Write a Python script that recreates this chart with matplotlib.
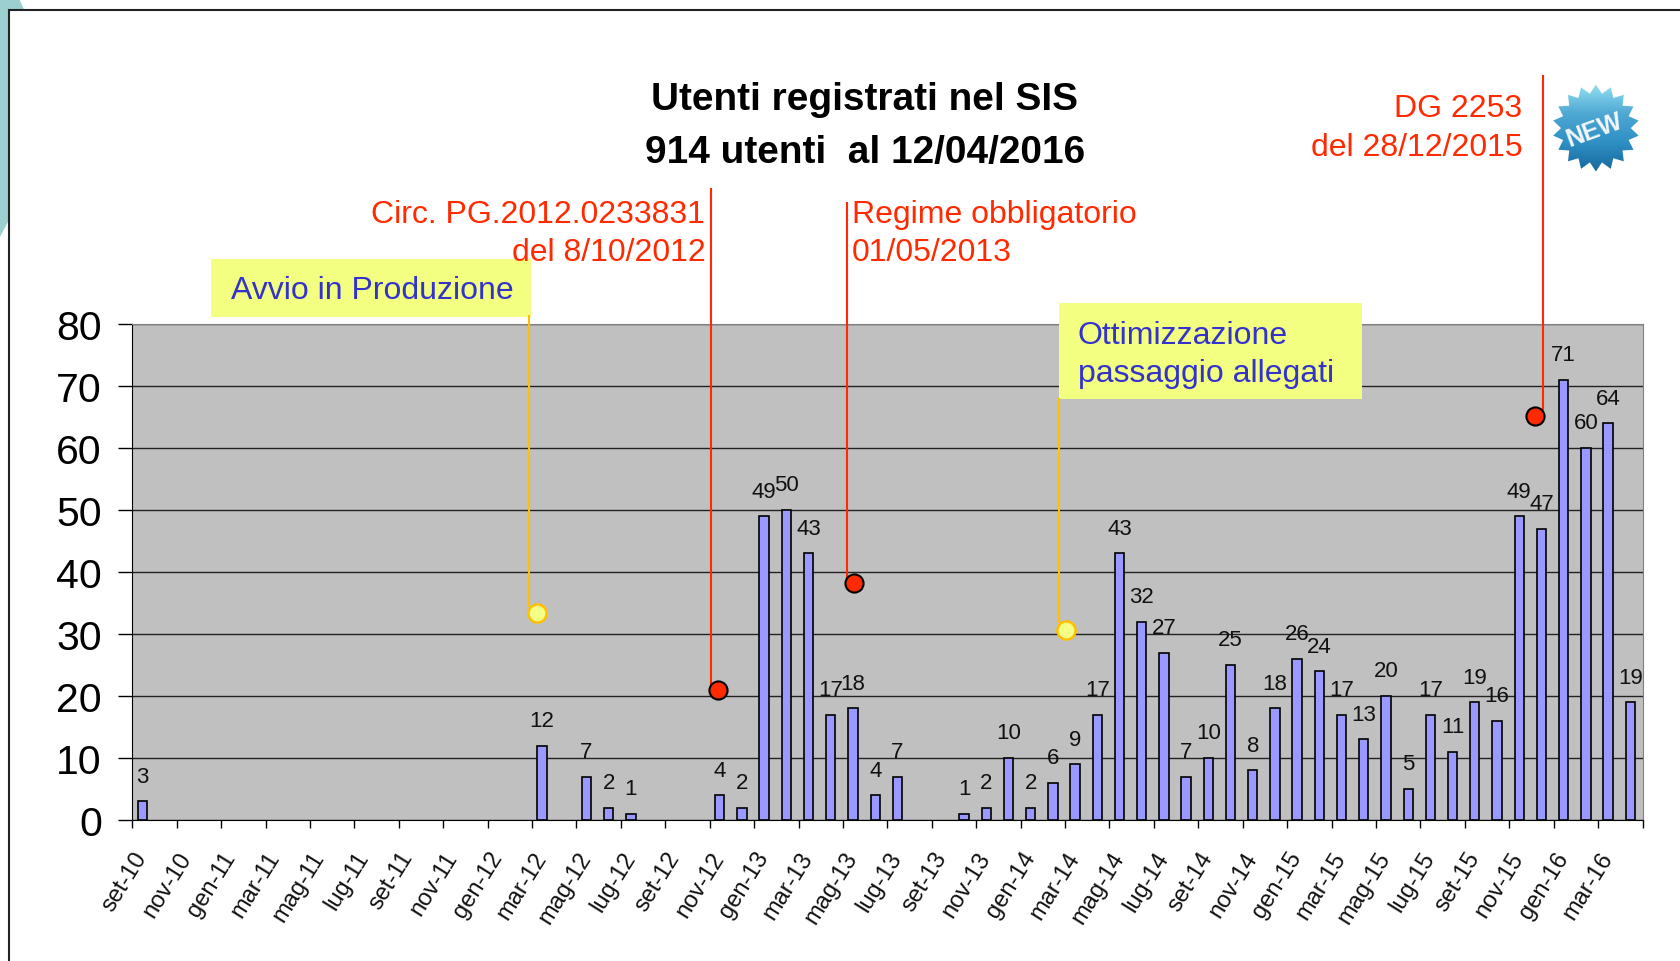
import numpy as np
import matplotlib
matplotlib.use("Agg")
import matplotlib.pyplot as plt
from matplotlib.patches import Polygon, Rectangle

plt.rcParams['font.family'] = ['Liberation Sans', 'DejaVu Sans']

MONTHS = ["set-10","ott-10","nov-10","dic-10","gen-11","feb-11","mar-11","apr-11","mag-11","giu-11","lug-11","ago-11",
          "set-11","ott-11","nov-11","dic-11","gen-12","feb-12","mar-12","apr-12","mag-12","giu-12","lug-12","ago-12",
          "set-12","ott-12","nov-12","dic-12","gen-13","feb-13","mar-13","apr-13","mag-13","giu-13","lug-13","ago-13",
          "set-13","ott-13","nov-13","dic-13","gen-14","feb-14","mar-14","apr-14","mag-14","giu-14","lug-14","ago-14",
          "set-14","ott-14","nov-14","dic-14","gen-15","feb-15","mar-15","apr-15","mag-15","giu-15","lug-15","ago-15",
          "set-15","ott-15","nov-15","dic-15","gen-16","feb-16","mar-16","apr-16"]
USERS = [3,0,0,0,0,0,0,0,0,0,0,0,
         0,0,0,0,0,0,12,0,7,2,1,0,
         0,0,4,2,49,50,43,17,18,4,7,0,
         0,1,2,10,2,6,9,17,43,32,27,7,
         10,25,8,18,26,24,17,13,20,5,17,11,
         19,16,49,47,71,60,64,19]
TITLE = ["Utenti registrati nel SIS", "914 utenti  al 12/04/2016"]
RED_EVENTS_X = [26.35, 32.48, 63.18]
RED_EVENTS_Y = [21.0, 38.2, 65.1]
YELLOW_EVENTS_X = [18.2, 42.04]
YELLOW_EVENTS_Y = [33.3, 30.7]

W, H = 1568.0, 898.0
RED, BLUE, YEL, ORANGE = "#ff2a00", "#3333cc", "#f2ff80", "#ffc000"

fig = plt.figure(figsize=(16.8, 9.62), dpi=100, facecolor="white")
ax = fig.add_axes([123.5/W, 1-766.3/H, (1533-123.5)/W, (766-303)/H], facecolor="#c0c0c0", zorder=2)

x = np.arange(len(USERS)) + 0.45
vals = np.array(USERS)
mask = vals > 0
ax.set_axisbelow(True)
ax.yaxis.grid(True, color="#222222", lw=1.0)
ax.bar(x[mask], vals[mask], width=0.42, color="#9999ff", edgecolor="black", linewidth=1.2, zorder=3)
for xi, v in zip(x[mask], vals[mask]):
    ax.annotate(str(v), (xi, v), xytext=(0, 18), textcoords="offset points",
                ha="center", va="center", fontsize=16, color="#111111", zorder=4)

ax.set_xlim(0, len(USERS))
ax.set_ylim(0, 80)
ax.set_yticks(range(0, 81, 10))
ax.tick_params(axis="y", labelsize=29.5, length=10, width=1, pad=12, colors="black")
ax.set_xticks(range(0, len(USERS) + 1, 2))
ax.set_xticklabels([])
ax.tick_params(axis="x", length=6, width=1)
for i, lab in enumerate(MONTHS[::2]):
    ax.annotate(lab, (2*i, 0), xytext=(7, -24), textcoords="offset points", xycoords="data",
                rotation=58, rotation_mode="anchor", ha="right", va="center",
                fontsize=17, color="#111111", annotation_clip=False)
for s in ("left", "bottom"):
    ax.spines[s].set_color("black")
for s in ("top", "right"):
    ax.spines[s].set_color("#808080")

# slide furniture and callouts, in picture coordinates
ov = fig.add_axes([0, 0, 1, 1], facecolor="none", zorder=5)
ov.set_xlim(0, W); ov.set_ylim(H, 0); ov.axis("off")
ov0 = fig.add_axes([0, 0, 1, 1], facecolor="none", zorder=1)
ov0.set_xlim(0, W); ov0.set_ylim(H, 0); ov0.axis("off")
ov0.add_patch(Polygon([(0,0),(18,0),(22.5,10),(8,10),(8,207),(0,222)], closed=True, fc="#9ccfcf", ec="none"))
ov0.plot([8,8,W],[H,10.5,10.5], color="#222222", lw=1.5, solid_joinstyle="miter")

for t, yy in zip(TITLE, (93, 143)):
    ov.text(807, yy, t, ha="center", va="center", fontsize=27.9, fontweight="bold", color="black")

ov.add_patch(Rectangle((197,242.5), 299, 54, fc=YEL, ec="none"))
ov.add_patch(Rectangle((988,283.5), 283, 90, fc=YEL, ec="none"))
ov.text(216, 272, "Avvio in Produzione", color=BLUE, fontsize=23, va="center")
ov.text(1006, 314, "Ottimizzazione", color=BLUE, fontsize=23, va="center")
ov.text(1006, 349, "passaggio allegati", color=BLUE, fontsize=23, va="center")

ov.plot([494,494],[296,567], color=ORANGE, lw=1.5)
ov.plot([988,988],[373,582], color=ORANGE, lw=1.5)
ov.plot([663.5,663.5],[177,650], color=RED, lw=1.5)
ov.plot([790.5,790.5],[190,540], color=RED, lw=1.5)
ov.plot([1440,1440],[72,383], color=RED, lw=1.5)

ov.text(658, 201, "Circ. PG.2012.0233831", color=RED, fontsize=23, ha="right", va="center")
ov.text(658.5, 236, "del 8/10/2012", color=RED, fontsize=23, ha="right", va="center")
ov.text(795, 201, "Regime obbligatorio", color=RED, fontsize=23, ha="left", va="center")
ov.text(795, 236, "01/05/2013", color=RED, fontsize=23, ha="left", va="center")
ov.text(1421, 102, "DG 2253", color=RED, fontsize=23, ha="right", va="center")
ov.text(1421, 138, "del 28/12/2015", color=RED, fontsize=23, ha="right", va="center")

ov.scatter(RED_EVENTS_X, RED_EVENTS_Y, s=170, c=RED, edgecolors="black", linewidths=1.5,
           transform=ax.transData, zorder=6, clip_on=False)
ov.scatter(YELLOW_EVENTS_X, YELLOW_EVENTS_Y, s=170, c="#f4ff88", edgecolors=ORANGE, linewidths=1.8,
           transform=ax.transData, zorder=6, clip_on=False)

# "NEW" badge
cx, cy, n = 1489.5, 120.5, 18
ang = np.linspace(0, 2*np.pi, 2*n, endpoint=False) + np.pi/2
rad = np.where(np.arange(2*n) % 2 == 0, 40.5, 32.5)
star = Polygon(np.c_[cx + rad*np.cos(ang), cy - rad*np.sin(ang)], closed=True, transform=ov.transData, fc="none", ec="none")
ov.add_patch(star)
grad = np.linspace(0, 1, 256)[:, None]
cmap = matplotlib.colors.LinearSegmentedColormap.from_list("b", ["#94e0f2", "#4fa8d4", "#2f8fc4", "#17689c"])
im = ov.imshow(grad, extent=(cx-41, cx+41, cy+41, cy-41), cmap=cmap, aspect="auto", zorder=3)
im.set_clip_path(star)
ov.set_xlim(0, W); ov.set_ylim(H, 0)
ov.text(cx-1, cy+1, "NEW", rotation=20, ha="center", va="center", fontsize=18, fontweight="bold", color="#f2f6f8", zorder=4)

fig.savefig("out.png", dpi=100)
